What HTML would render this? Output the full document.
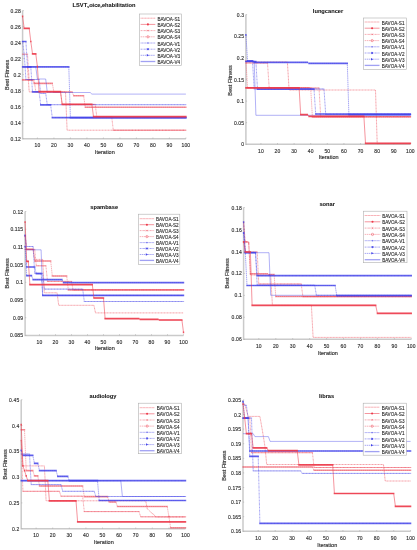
<!DOCTYPE html>
<html><head><meta charset="utf-8"><title>BAVOA convergence curves</title>
<style>
html,body{margin:0;padding:0;background:#fff;width:417px;height:550px;overflow:hidden}
svg{display:block;font-family:"Liberation Sans",sans-serif;filter:blur(0.4px)}
.tk{font-size:5.0px;letter-spacing:0.12px;fill:#2e2e2e;stroke:#333;stroke-width:0.14px}
.al{font-size:5.5px;fill:#2e2e2e;stroke:#333;stroke-width:0.16px}
.tt{font-size:5.7px;font-weight:bold;fill:#111;stroke:#111;stroke-width:0.05px}
.tt .sub{font-size:3.6px}
.lg{font-size:4.6px;fill:#262626;stroke:#262626;stroke-width:0.1px}
</style></head><body>
<svg width="417" height="550" viewBox="0 0 417 550">
<rect width="417" height="550" fill="#fff"/>
<g><path d="M22.6 10.6V138.7H185.9" fill="none" stroke="#cacaca" stroke-width="1.5"/><path d="M22.6 138.7h1.2" stroke="#a0a0a0" stroke-width="0.5"/><text x="20.8" y="140.8" class="tk" text-anchor="end">0.12</text><path d="M22.6 122.7h1.2" stroke="#a0a0a0" stroke-width="0.5"/><text x="20.8" y="124.7" class="tk" text-anchor="end">0.14</text><path d="M22.6 106.7h1.2" stroke="#a0a0a0" stroke-width="0.5"/><text x="20.8" y="108.7" class="tk" text-anchor="end">0.16</text><path d="M22.6 90.7h1.2" stroke="#a0a0a0" stroke-width="0.5"/><text x="20.8" y="92.7" class="tk" text-anchor="end">0.18</text><path d="M22.6 74.6h1.2" stroke="#a0a0a0" stroke-width="0.5"/><text x="20.8" y="76.7" class="tk" text-anchor="end">0.2</text><path d="M22.6 58.6h1.2" stroke="#a0a0a0" stroke-width="0.5"/><text x="20.8" y="60.7" class="tk" text-anchor="end">0.22</text><path d="M22.6 42.6h1.2" stroke="#a0a0a0" stroke-width="0.5"/><text x="20.8" y="44.7" class="tk" text-anchor="end">0.24</text><path d="M22.6 26.6h1.2" stroke="#a0a0a0" stroke-width="0.5"/><text x="20.8" y="28.7" class="tk" text-anchor="end">0.26</text><path d="M22.6 10.6h1.2" stroke="#a0a0a0" stroke-width="0.5"/><text x="20.8" y="12.6" class="tk" text-anchor="end">0.28</text><path d="M37.4 138.7v-1.2" stroke="#a0a0a0" stroke-width="0.5"/><text x="37.4" y="147.0" class="tk" text-anchor="middle">10</text><path d="M53.9 138.7v-1.2" stroke="#a0a0a0" stroke-width="0.5"/><text x="53.9" y="147.0" class="tk" text-anchor="middle">20</text><path d="M70.4 138.7v-1.2" stroke="#a0a0a0" stroke-width="0.5"/><text x="70.4" y="147.0" class="tk" text-anchor="middle">30</text><path d="M86.9 138.7v-1.2" stroke="#a0a0a0" stroke-width="0.5"/><text x="86.9" y="147.0" class="tk" text-anchor="middle">40</text><path d="M103.4 138.7v-1.2" stroke="#a0a0a0" stroke-width="0.5"/><text x="103.4" y="147.0" class="tk" text-anchor="middle">50</text><path d="M119.9 138.7v-1.2" stroke="#a0a0a0" stroke-width="0.5"/><text x="119.9" y="147.0" class="tk" text-anchor="middle">60</text><path d="M136.4 138.7v-1.2" stroke="#a0a0a0" stroke-width="0.5"/><text x="136.4" y="147.0" class="tk" text-anchor="middle">70</text><path d="M152.9 138.7v-1.2" stroke="#a0a0a0" stroke-width="0.5"/><text x="152.9" y="147.0" class="tk" text-anchor="middle">80</text><path d="M169.4 138.7v-1.2" stroke="#a0a0a0" stroke-width="0.5"/><text x="169.4" y="147.0" class="tk" text-anchor="middle">90</text><path d="M185.9 138.7v-1.2" stroke="#a0a0a0" stroke-width="0.5"/><text x="185.9" y="147.0" class="tk" text-anchor="middle">100</text><text x="104.8" y="153.6" class="al" text-anchor="middle">Iteration</text><text class="al" text-anchor="middle" transform="translate(8.8 74.8) rotate(-90)">Best Fitness</text><text x="104.0" y="6.8" class="tt" text-anchor="middle">LSVT<tspan class="sub" dy="1.4">v</tspan><tspan dy="-1.4">oice</tspan><tspan class="sub" dy="1.4">r</tspan><tspan dy="-1.4">ehabilitation</tspan></text><polyline points="22.6,66.9 27.5,66.9 29.2,91.9 65.5,91.9 67.1,130.2 185.9,130.2" fill="none" stroke="#ec3a4a" stroke-width="0.80" stroke-dasharray="1.1 0.4" stroke-opacity="0.60"/><polyline points="22.6,54.2 27.5,54.2 29.2,79.9 34.1,79.9 35.8,91.9 60.5,91.9 62.2,104.4 95.2,104.4 96.8,116.8 111.7,116.8 113.3,130.2 185.9,130.2" fill="none" stroke="#ec3a4a" stroke-width="0.60" stroke-dasharray="1.8 0.5 0.6 0.5" stroke-opacity="0.70"/><path d="M21.9 54.2H28.2M28.5 79.9H34.8M35.1 91.9H61.2M61.5 104.4H95.9M96.1 116.8H112.4M112.6 130.2H186.6" stroke="#ec3a4a" stroke-width="1.00" stroke-opacity="0.40" fill="none"/><polyline points="22.6,79.9 32.5,79.9 34.1,83.4 52.3,83.4 53.9,92.0 72.1,92.0 73.7,95.7 83.6,95.7 85.3,107.2 185.9,107.2" fill="none" stroke="#ec3a4a" stroke-width="0.55" stroke-dasharray="1.5 0.6" stroke-opacity="0.70"/><path d="M21.9 79.9H33.2M33.4 83.4H53.0M53.2 92.0H72.8M73.0 95.7H84.3M84.6 107.2H186.6" stroke="#ec3a4a" stroke-width="1.60" stroke-opacity="0.50" fill="none"/><polyline points="22.6,41.5 24.2,54.2 25.9,79.5 39.1,79.5 40.7,93.4 45.7,93.4 47.3,104.7 185.9,104.7" fill="none" stroke="#4444e8" stroke-width="0.80" stroke-dasharray="1.1 0.4" stroke-opacity="0.60"/><path d="M21.9 41.5H23.3M23.5 54.2H24.9M25.2 79.5H39.8M40.0 93.4H46.4M46.6 104.7H186.6" stroke="#4444e8" stroke-width="0.90" stroke-opacity="0.30" fill="none"/><polyline points="22.6,66.9 35.8,66.9 37.4,79.0 45.7,79.0 47.3,92.5 90.2,92.5 91.9,94.1 185.9,94.1" fill="none" stroke="#4444e8" stroke-width="0.75" stroke-opacity="0.55"/><polyline points="22.6,41.5 25.9,41.5 27.5,66.9 30.8,66.9 32.5,91.9 39.1,91.9 40.7,104.8 50.6,104.8 52.3,117.6 185.9,117.6" fill="none" stroke="#4444e8" stroke-width="0.55" stroke-dasharray="1.8 0.5 0.6 0.5" stroke-opacity="0.85"/><path d="M21.9 41.5H26.6M26.8 66.9H31.5M31.8 91.9H39.8M40.0 104.8H51.3M51.6 117.6H186.6" stroke="#4444e8" stroke-width="1.70" stroke-opacity="0.80" fill="none"/><polyline points="22.6,66.9 68.8,66.9 70.4,117.6 185.9,117.6" fill="none" stroke="#4444e8" stroke-width="0.55" stroke-dasharray="1.5 0.6" stroke-opacity="0.85"/><path d="M21.9 66.9H69.5M69.7 117.6H186.6" stroke="#4444e8" stroke-width="1.70" stroke-opacity="0.80" fill="none"/><polyline points="22.6,16.4 24.2,28.4 29.2,28.4 30.8,41.5 32.5,53.9 35.8,53.9 37.4,66.6 39.1,91.7 60.5,91.7 62.2,104.4 91.9,104.4 93.5,116.7 185.9,116.7" fill="none" stroke="#ec3a4a" stroke-width="0.60" stroke-opacity="0.90"/><path d="M21.9 16.4H23.3M23.5 28.4H29.9M30.1 41.5H31.5M31.8 53.9H36.5M36.7 66.6H38.1M38.4 91.7H61.2M61.5 104.4H92.6M92.8 116.7H186.6" stroke="#ec3a4a" stroke-width="1.70" stroke-opacity="0.85" fill="none"/><rect x="139.5" y="14.0" width="42.1" height="51.3" fill="#fff" stroke="#b0b0b0" stroke-width="0.6"/><path d="M140.6 18.2H155.3" stroke="#ec3a4a" stroke-width="0.80" stroke-dasharray="1.1 0.4" stroke-opacity="0.60"/><text x="157.4" y="20.8" class="lg">BAVOA-S1</text><path d="M140.6 24.4H155.3" stroke="#ec3a4a" stroke-width="0.60" stroke-opacity="0.90"/><circle cx="147.9" cy="24.4" r="1.05" fill="#ec3a4a"/><text x="157.4" y="27.0" class="lg">BAVOA-S2</text><path d="M140.6 30.6H155.3" stroke="#ec3a4a" stroke-width="0.60" stroke-dasharray="1.8 0.5 0.6 0.5" stroke-opacity="0.70"/><path d="M147.1 29.8l1.6 1.6m0 -1.6l-1.6 1.6" stroke="#ec3a4a" stroke-width="0.5" opacity="0.75" fill="none"/><text x="157.4" y="33.2" class="lg">BAVOA-S3</text><path d="M140.6 36.8H155.3" stroke="#ec3a4a" stroke-width="0.55" stroke-dasharray="1.5 0.6" stroke-opacity="0.70"/><circle cx="147.9" cy="36.8" r="1.15" fill="none" stroke="#ec3a4a" stroke-width="0.55" opacity="0.8"/><text x="157.4" y="39.4" class="lg">BAVOA-S4</text><path d="M140.6 43.0H155.3" stroke="#4444e8" stroke-width="0.80" stroke-dasharray="1.1 0.4" stroke-opacity="0.60"/><path d="M147.1 43.0h1.6m-0.8 -0.8v1.6" stroke="#4444e8" stroke-width="0.5" opacity="0.75" fill="none"/><text x="157.4" y="45.6" class="lg">BAVOA-V1</text><path d="M140.6 49.2H155.3" stroke="#4444e8" stroke-width="0.55" stroke-dasharray="1.8 0.5 0.6 0.5" stroke-opacity="0.85"/><path d="M147.0 48.3l1.8 1.8m0 -1.8l-1.8 1.8M146.8 49.2h2.2m-1.1 -1.1v2.2" stroke="#4444e8" stroke-width="0.6" fill="none"/><text x="157.4" y="51.8" class="lg">BAVOA-V2</text><path d="M140.6 55.3H155.3" stroke="#4444e8" stroke-width="0.55" stroke-dasharray="1.5 0.6" stroke-opacity="0.85"/><path d="M146.8 54.1l2.2 1.25l-2.2 1.25z" fill="#4444e8"/><text x="157.4" y="57.9" class="lg">BAVOA-V3</text><path d="M140.6 61.5H155.3" stroke="#4444e8" stroke-width="1.30" stroke-opacity="0.50"/><text x="157.4" y="64.1" class="lg">BAVOA-V4</text></g>
<g><path d="M245.9 14.6V144.3H410.4" fill="none" stroke="#cacaca" stroke-width="1.5"/><path d="M245.9 144.3h1.2" stroke="#a0a0a0" stroke-width="0.5"/><text x="244.1" y="146.4" class="tk" text-anchor="end">0</text><path d="M245.9 122.7h1.2" stroke="#a0a0a0" stroke-width="0.5"/><text x="244.1" y="124.7" class="tk" text-anchor="end">0.05</text><path d="M245.9 101.1h1.2" stroke="#a0a0a0" stroke-width="0.5"/><text x="244.1" y="103.1" class="tk" text-anchor="end">0.1</text><path d="M245.9 79.4h1.2" stroke="#a0a0a0" stroke-width="0.5"/><text x="244.1" y="81.5" class="tk" text-anchor="end">0.15</text><path d="M245.9 57.8h1.2" stroke="#a0a0a0" stroke-width="0.5"/><text x="244.1" y="59.9" class="tk" text-anchor="end">0.2</text><path d="M245.9 36.2h1.2" stroke="#a0a0a0" stroke-width="0.5"/><text x="244.1" y="38.3" class="tk" text-anchor="end">0.25</text><path d="M245.9 14.6h1.2" stroke="#a0a0a0" stroke-width="0.5"/><text x="244.1" y="16.6" class="tk" text-anchor="end">0.3</text><path d="M260.9 144.3v-1.2" stroke="#a0a0a0" stroke-width="0.5"/><text x="260.9" y="152.6" class="tk" text-anchor="middle">10</text><path d="M277.5 144.3v-1.2" stroke="#a0a0a0" stroke-width="0.5"/><text x="277.5" y="152.6" class="tk" text-anchor="middle">20</text><path d="M294.1 144.3v-1.2" stroke="#a0a0a0" stroke-width="0.5"/><text x="294.1" y="152.6" class="tk" text-anchor="middle">30</text><path d="M310.7 144.3v-1.2" stroke="#a0a0a0" stroke-width="0.5"/><text x="310.7" y="152.6" class="tk" text-anchor="middle">40</text><path d="M327.3 144.3v-1.2" stroke="#a0a0a0" stroke-width="0.5"/><text x="327.3" y="152.6" class="tk" text-anchor="middle">50</text><path d="M343.9 144.3v-1.2" stroke="#a0a0a0" stroke-width="0.5"/><text x="343.9" y="152.6" class="tk" text-anchor="middle">60</text><path d="M360.6 144.3v-1.2" stroke="#a0a0a0" stroke-width="0.5"/><text x="360.6" y="152.6" class="tk" text-anchor="middle">70</text><path d="M377.2 144.3v-1.2" stroke="#a0a0a0" stroke-width="0.5"/><text x="377.2" y="152.6" class="tk" text-anchor="middle">80</text><path d="M393.8 144.3v-1.2" stroke="#a0a0a0" stroke-width="0.5"/><text x="393.8" y="152.6" class="tk" text-anchor="middle">90</text><path d="M410.4 144.3v-1.2" stroke="#a0a0a0" stroke-width="0.5"/><text x="410.4" y="152.6" class="tk" text-anchor="middle">100</text><text x="328.6" y="158.6" class="al" text-anchor="middle">Iteration</text><text class="al" text-anchor="middle" transform="translate(231.8 80.5) rotate(-90)">Best Fitness</text><text x="328.0" y="12.9" class="tt" text-anchor="middle">lungcancer</text><polyline points="245.9,62.0 287.4,62.0 289.1,90.0 375.5,90.0 377.2,143.6 410.4,143.6" fill="none" stroke="#ec3a4a" stroke-width="0.80" stroke-dasharray="1.1 0.4" stroke-opacity="0.60"/><polyline points="245.9,63.0 267.5,63.0 269.2,88.0 319.0,88.0 320.7,116.5 410.4,116.5" fill="none" stroke="#ec3a4a" stroke-width="0.60" stroke-dasharray="1.8 0.5 0.6 0.5" stroke-opacity="0.70"/><path d="M245.2 63.0H268.2M268.5 88.0H319.7M320.0 116.5H411.1" stroke="#ec3a4a" stroke-width="1.00" stroke-opacity="0.40" fill="none"/><polyline points="245.9,61.0 247.6,87.8 309.0,87.8 310.7,88.3 312.4,117.0 410.4,117.0" fill="none" stroke="#ec3a4a" stroke-width="0.55" stroke-dasharray="1.5 0.6" stroke-opacity="0.70"/><path d="M245.2 61.0H246.6M246.9 87.8H309.7M310.0 88.3H311.4M311.7 117.0H411.1" stroke="#ec3a4a" stroke-width="1.60" stroke-opacity="0.50" fill="none"/><polyline points="245.9,61.5 252.5,61.5 254.2,89.0 324.0,89.0 325.7,114.5 410.4,114.5" fill="none" stroke="#4444e8" stroke-width="0.80" stroke-dasharray="1.1 0.4" stroke-opacity="0.60"/><path d="M245.2 61.5H253.2M253.5 89.0H324.7M325.0 114.5H411.1" stroke="#4444e8" stroke-width="0.90" stroke-opacity="0.30" fill="none"/><polyline points="245.9,60.9 254.2,60.9 255.9,115.3 410.4,115.3" fill="none" stroke="#4444e8" stroke-width="0.75" stroke-opacity="0.55"/><polyline points="245.9,61.5 255.9,61.5 257.5,89.2 314.0,89.2 315.7,114.0 410.4,114.0" fill="none" stroke="#4444e8" stroke-width="0.55" stroke-dasharray="1.8 0.5 0.6 0.5" stroke-opacity="0.85"/><path d="M245.2 61.5H256.6M256.8 89.2H314.7M315.0 114.0H411.1" stroke="#4444e8" stroke-width="1.70" stroke-opacity="0.80" fill="none"/><polyline points="245.9,34.8 247.6,60.9 252.5,60.9 254.2,62.4 307.4,62.4 309.0,63.4 347.3,63.4 348.9,114.6 410.4,114.6" fill="none" stroke="#4444e8" stroke-width="0.55" stroke-dasharray="1.5 0.6" stroke-opacity="0.85"/><path d="M245.2 34.8H246.6M246.9 60.9H253.2M253.5 62.4H308.1M308.3 63.4H348.0M348.2 114.6H411.1" stroke="#4444e8" stroke-width="1.70" stroke-opacity="0.80" fill="none"/><polyline points="245.9,87.8 299.1,87.8 300.7,114.7 307.4,114.7 309.0,116.3 363.9,116.3 365.5,143.3 410.4,143.3" fill="none" stroke="#ec3a4a" stroke-width="0.60" stroke-opacity="0.90"/><path d="M245.2 87.8H299.8M300.0 114.7H308.1M308.3 116.3H364.6M364.8 143.3H411.1" stroke="#ec3a4a" stroke-width="1.70" stroke-opacity="0.85" fill="none"/><rect x="363.5" y="18.0" width="42.8" height="51.3" fill="#fff" stroke="#b0b0b0" stroke-width="0.6"/><path d="M364.7 22.0H379.5" stroke="#ec3a4a" stroke-width="0.80" stroke-dasharray="1.1 0.4" stroke-opacity="0.60"/><text x="381.8" y="24.6" class="lg">BAVOA-S1</text><path d="M364.7 28.2H379.5" stroke="#ec3a4a" stroke-width="0.60" stroke-opacity="0.90"/><circle cx="372.1" cy="28.2" r="1.05" fill="#ec3a4a"/><text x="381.8" y="30.8" class="lg">BAVOA-S2</text><path d="M364.7 34.4H379.5" stroke="#ec3a4a" stroke-width="0.60" stroke-dasharray="1.8 0.5 0.6 0.5" stroke-opacity="0.70"/><path d="M371.3 33.6l1.6 1.6m0 -1.6l-1.6 1.6" stroke="#ec3a4a" stroke-width="0.5" opacity="0.75" fill="none"/><text x="381.8" y="37.0" class="lg">BAVOA-S3</text><path d="M364.7 40.6H379.5" stroke="#ec3a4a" stroke-width="0.55" stroke-dasharray="1.5 0.6" stroke-opacity="0.70"/><circle cx="372.1" cy="40.6" r="1.15" fill="none" stroke="#ec3a4a" stroke-width="0.55" opacity="0.8"/><text x="381.8" y="43.2" class="lg">BAVOA-S4</text><path d="M364.7 46.8H379.5" stroke="#4444e8" stroke-width="0.80" stroke-dasharray="1.1 0.4" stroke-opacity="0.60"/><path d="M371.3 46.8h1.6m-0.8 -0.8v1.6" stroke="#4444e8" stroke-width="0.5" opacity="0.75" fill="none"/><text x="381.8" y="49.4" class="lg">BAVOA-V1</text><path d="M364.7 53.0H379.5" stroke="#4444e8" stroke-width="0.55" stroke-dasharray="1.8 0.5 0.6 0.5" stroke-opacity="0.85"/><path d="M371.2 52.1l1.8 1.8m0 -1.8l-1.8 1.8M371.0 53.0h2.2m-1.1 -1.1v2.2" stroke="#4444e8" stroke-width="0.6" fill="none"/><text x="381.8" y="55.6" class="lg">BAVOA-V2</text><path d="M364.7 59.2H379.5" stroke="#4444e8" stroke-width="0.55" stroke-dasharray="1.5 0.6" stroke-opacity="0.85"/><path d="M371.0 58.0l2.2 1.25l-2.2 1.25z" fill="#4444e8"/><text x="381.8" y="61.8" class="lg">BAVOA-V3</text><path d="M364.7 65.4H379.5" stroke="#4444e8" stroke-width="1.30" stroke-opacity="0.50"/><text x="381.8" y="68.0" class="lg">BAVOA-V4</text></g>
<g><path d="M25.1 211.5V335.4H183.5" fill="none" stroke="#cacaca" stroke-width="1.5"/><path d="M25.1 335.4h1.2" stroke="#a0a0a0" stroke-width="0.5"/><text x="23.2" y="337.4" class="tk" text-anchor="end">0.085</text><path d="M25.1 317.7h1.2" stroke="#a0a0a0" stroke-width="0.5"/><text x="23.2" y="319.7" class="tk" text-anchor="end">0.09</text><path d="M25.1 300.0h1.2" stroke="#a0a0a0" stroke-width="0.5"/><text x="23.2" y="302.1" class="tk" text-anchor="end">0.095</text><path d="M25.1 282.3h1.2" stroke="#a0a0a0" stroke-width="0.5"/><text x="23.2" y="284.3" class="tk" text-anchor="end">0.1</text><path d="M25.1 264.6h1.2" stroke="#a0a0a0" stroke-width="0.5"/><text x="23.2" y="266.6" class="tk" text-anchor="end">0.105</text><path d="M25.1 246.9h1.2" stroke="#a0a0a0" stroke-width="0.5"/><text x="23.2" y="248.9" class="tk" text-anchor="end">0.11</text><path d="M25.1 229.2h1.2" stroke="#a0a0a0" stroke-width="0.5"/><text x="23.2" y="231.2" class="tk" text-anchor="end">0.115</text><path d="M25.1 211.5h1.2" stroke="#a0a0a0" stroke-width="0.5"/><text x="23.2" y="213.5" class="tk" text-anchor="end">0.12</text><path d="M39.5 335.4v-1.2" stroke="#a0a0a0" stroke-width="0.5"/><text x="39.5" y="343.7" class="tk" text-anchor="middle">10</text><path d="M55.5 335.4v-1.2" stroke="#a0a0a0" stroke-width="0.5"/><text x="55.5" y="343.7" class="tk" text-anchor="middle">20</text><path d="M71.5 335.4v-1.2" stroke="#a0a0a0" stroke-width="0.5"/><text x="71.5" y="343.7" class="tk" text-anchor="middle">30</text><path d="M87.5 335.4v-1.2" stroke="#a0a0a0" stroke-width="0.5"/><text x="87.5" y="343.7" class="tk" text-anchor="middle">40</text><path d="M103.5 335.4v-1.2" stroke="#a0a0a0" stroke-width="0.5"/><text x="103.5" y="343.7" class="tk" text-anchor="middle">50</text><path d="M119.5 335.4v-1.2" stroke="#a0a0a0" stroke-width="0.5"/><text x="119.5" y="343.7" class="tk" text-anchor="middle">60</text><path d="M135.5 335.4v-1.2" stroke="#a0a0a0" stroke-width="0.5"/><text x="135.5" y="343.7" class="tk" text-anchor="middle">70</text><path d="M151.5 335.4v-1.2" stroke="#a0a0a0" stroke-width="0.5"/><text x="151.5" y="343.7" class="tk" text-anchor="middle">80</text><path d="M167.5 335.4v-1.2" stroke="#a0a0a0" stroke-width="0.5"/><text x="167.5" y="343.7" class="tk" text-anchor="middle">90</text><path d="M183.5 335.4v-1.2" stroke="#a0a0a0" stroke-width="0.5"/><text x="183.5" y="343.7" class="tk" text-anchor="middle">100</text><text x="104.8" y="350.0" class="al" text-anchor="middle">Iteration</text><text class="al" text-anchor="middle" transform="translate(8.8 273.3) rotate(-90)">Best Fitness</text><text x="104.2" y="208.6" class="tt" text-anchor="middle">spambase</text><polyline points="25.1,249.3 33.1,249.3 34.7,259.4 42.7,259.4 44.3,292.8 57.1,292.8 58.7,305.3 93.9,305.3 95.5,312.9 183.5,312.9" fill="none" stroke="#ec3a4a" stroke-width="0.80" stroke-dasharray="1.1 0.4" stroke-opacity="0.60"/><polyline points="25.1,249.4 34.7,249.4 36.3,265.8 45.9,265.8 47.5,281.4 71.5,281.4 73.1,289.9 183.5,289.9" fill="none" stroke="#ec3a4a" stroke-width="0.60" stroke-dasharray="1.8 0.5 0.6 0.5" stroke-opacity="0.70"/><path d="M24.4 249.4H35.4M35.6 265.8H46.6M46.8 281.4H72.2M72.4 289.9H184.2" stroke="#ec3a4a" stroke-width="1.00" stroke-opacity="0.40" fill="none"/><polyline points="25.1,236.0 26.7,249.4 33.1,249.4 34.7,261.0 50.7,261.0 52.3,276.0 66.7,276.0 68.3,289.9 183.5,289.9" fill="none" stroke="#ec3a4a" stroke-width="0.55" stroke-dasharray="1.5 0.6" stroke-opacity="0.70"/><path d="M24.4 236.0H25.8M26.0 249.4H33.8M34.0 261.0H51.4M51.6 276.0H67.4M67.6 289.9H184.2" stroke="#ec3a4a" stroke-width="1.60" stroke-opacity="0.50" fill="none"/><polyline points="25.1,235.4 26.7,246.5 33.1,246.5 34.7,273.3 42.7,273.3 44.3,289.1 82.7,289.1 84.3,301.5 183.5,301.5" fill="none" stroke="#4444e8" stroke-width="0.80" stroke-dasharray="1.1 0.4" stroke-opacity="0.60"/><path d="M24.4 235.4H25.8M26.0 246.5H33.8M34.0 273.3H43.4M43.6 289.1H83.4M83.6 301.5H184.2" stroke="#4444e8" stroke-width="0.90" stroke-opacity="0.30" fill="none"/><polyline points="25.1,246.5 26.7,249.8 41.1,249.8 42.7,295.6 183.5,295.6" fill="none" stroke="#4444e8" stroke-width="0.75" stroke-opacity="0.55"/><polyline points="25.1,235.4 26.7,267.0 34.7,267.0 36.3,273.6 41.1,273.6 42.7,295.4 183.5,295.4" fill="none" stroke="#4444e8" stroke-width="0.55" stroke-dasharray="1.8 0.5 0.6 0.5" stroke-opacity="0.85"/><path d="M24.4 235.4H25.8M26.0 267.0H35.4M35.6 273.6H41.8M42.0 295.4H184.2" stroke="#4444e8" stroke-width="1.70" stroke-opacity="0.80" fill="none"/><polyline points="25.1,246.5 26.7,275.7 31.5,275.7 33.1,279.6 61.9,279.6 63.5,282.6 183.5,282.6" fill="none" stroke="#4444e8" stroke-width="0.55" stroke-dasharray="1.5 0.6" stroke-opacity="0.85"/><path d="M24.4 246.5H25.8M26.0 275.7H32.2M32.4 279.6H62.6M62.8 282.6H184.2" stroke="#4444e8" stroke-width="1.70" stroke-opacity="0.80" fill="none"/><polyline points="25.1,222.0 26.7,261.3 28.3,261.3 29.9,284.6 92.3,284.6 93.9,298.0 103.5,298.0 105.1,318.6 138.7,318.6 140.3,319.4 157.9,319.4 159.5,320.0 181.9,320.0 183.5,332.4" fill="none" stroke="#ec3a4a" stroke-width="0.60" stroke-opacity="0.90"/><path d="M24.4 222.0H25.8M26.0 261.3H29.0M29.2 284.6H93.0M93.2 298.0H104.2M104.4 318.6H139.4M139.6 319.4H158.6M158.8 320.0H182.6M182.8 332.4H184.2" stroke="#ec3a4a" stroke-width="1.70" stroke-opacity="0.85" fill="none"/><rect x="138.5" y="214.2" width="41.3" height="50.1" fill="#fff" stroke="#b0b0b0" stroke-width="0.6"/><path d="M139.7 218.7H154.1" stroke="#ec3a4a" stroke-width="0.80" stroke-dasharray="1.1 0.4" stroke-opacity="0.60"/><text x="156.0" y="221.3" class="lg">BAVOA-S1</text><path d="M139.7 224.7H154.1" stroke="#ec3a4a" stroke-width="0.60" stroke-opacity="0.90"/><circle cx="146.9" cy="224.7" r="1.05" fill="#ec3a4a"/><text x="156.0" y="227.3" class="lg">BAVOA-S2</text><path d="M139.7 230.6H154.1" stroke="#ec3a4a" stroke-width="0.60" stroke-dasharray="1.8 0.5 0.6 0.5" stroke-opacity="0.70"/><path d="M146.1 229.8l1.6 1.6m0 -1.6l-1.6 1.6" stroke="#ec3a4a" stroke-width="0.5" opacity="0.75" fill="none"/><text x="156.0" y="233.2" class="lg">BAVOA-S3</text><path d="M139.7 236.6H154.1" stroke="#ec3a4a" stroke-width="0.55" stroke-dasharray="1.5 0.6" stroke-opacity="0.70"/><circle cx="146.9" cy="236.6" r="1.15" fill="none" stroke="#ec3a4a" stroke-width="0.55" opacity="0.8"/><text x="156.0" y="239.2" class="lg">BAVOA-S4</text><path d="M139.7 242.6H154.1" stroke="#4444e8" stroke-width="0.80" stroke-dasharray="1.1 0.4" stroke-opacity="0.60"/><path d="M146.1 242.6h1.6m-0.8 -0.8v1.6" stroke="#4444e8" stroke-width="0.5" opacity="0.75" fill="none"/><text x="156.0" y="245.2" class="lg">BAVOA-V1</text><path d="M139.7 248.5H154.1" stroke="#4444e8" stroke-width="0.55" stroke-dasharray="1.8 0.5 0.6 0.5" stroke-opacity="0.85"/><path d="M146.0 247.6l1.8 1.8m0 -1.8l-1.8 1.8M145.8 248.5h2.2m-1.1 -1.1v2.2" stroke="#4444e8" stroke-width="0.6" fill="none"/><text x="156.0" y="251.1" class="lg">BAVOA-V2</text><path d="M139.7 254.5H154.1" stroke="#4444e8" stroke-width="0.55" stroke-dasharray="1.5 0.6" stroke-opacity="0.85"/><path d="M145.8 253.2l2.2 1.25l-2.2 1.25z" fill="#4444e8"/><text x="156.0" y="257.1" class="lg">BAVOA-V3</text><path d="M139.7 260.4H154.1" stroke="#4444e8" stroke-width="1.30" stroke-opacity="0.50"/><text x="156.0" y="263.0" class="lg">BAVOA-V4</text></g>
<g><path d="M243.6 207.5V339.3H411.3" fill="none" stroke="#cacaca" stroke-width="1.5"/><path d="M243.6 339.3h1.2" stroke="#a0a0a0" stroke-width="0.5"/><text x="241.8" y="341.4" class="tk" text-anchor="end">0.06</text><path d="M243.6 317.3h1.2" stroke="#a0a0a0" stroke-width="0.5"/><text x="241.8" y="319.4" class="tk" text-anchor="end">0.08</text><path d="M243.6 295.4h1.2" stroke="#a0a0a0" stroke-width="0.5"/><text x="241.8" y="297.4" class="tk" text-anchor="end">0.1</text><path d="M243.6 273.4h1.2" stroke="#a0a0a0" stroke-width="0.5"/><text x="241.8" y="275.4" class="tk" text-anchor="end">0.12</text><path d="M243.6 251.4h1.2" stroke="#a0a0a0" stroke-width="0.5"/><text x="241.8" y="253.5" class="tk" text-anchor="end">0.14</text><path d="M243.6 229.5h1.2" stroke="#a0a0a0" stroke-width="0.5"/><text x="241.8" y="231.5" class="tk" text-anchor="end">0.16</text><path d="M243.6 207.5h1.2" stroke="#a0a0a0" stroke-width="0.5"/><text x="241.8" y="209.6" class="tk" text-anchor="end">0.18</text><path d="M258.8 339.3v-1.2" stroke="#a0a0a0" stroke-width="0.5"/><text x="258.8" y="347.6" class="tk" text-anchor="middle">10</text><path d="M275.8 339.3v-1.2" stroke="#a0a0a0" stroke-width="0.5"/><text x="275.8" y="347.6" class="tk" text-anchor="middle">20</text><path d="M292.7 339.3v-1.2" stroke="#a0a0a0" stroke-width="0.5"/><text x="292.7" y="347.6" class="tk" text-anchor="middle">30</text><path d="M309.7 339.3v-1.2" stroke="#a0a0a0" stroke-width="0.5"/><text x="309.7" y="347.6" class="tk" text-anchor="middle">40</text><path d="M326.6 339.3v-1.2" stroke="#a0a0a0" stroke-width="0.5"/><text x="326.6" y="347.6" class="tk" text-anchor="middle">50</text><path d="M343.5 339.3v-1.2" stroke="#a0a0a0" stroke-width="0.5"/><text x="343.5" y="347.6" class="tk" text-anchor="middle">60</text><path d="M360.5 339.3v-1.2" stroke="#a0a0a0" stroke-width="0.5"/><text x="360.5" y="347.6" class="tk" text-anchor="middle">70</text><path d="M377.4 339.3v-1.2" stroke="#a0a0a0" stroke-width="0.5"/><text x="377.4" y="347.6" class="tk" text-anchor="middle">80</text><path d="M394.4 339.3v-1.2" stroke="#a0a0a0" stroke-width="0.5"/><text x="394.4" y="347.6" class="tk" text-anchor="middle">90</text><path d="M411.3 339.3v-1.2" stroke="#a0a0a0" stroke-width="0.5"/><text x="411.3" y="347.6" class="tk" text-anchor="middle">100</text><text x="327.9" y="354.5" class="al" text-anchor="middle">Iteration</text><text class="al" text-anchor="middle" transform="translate(229.2 273.3) rotate(-90)">Best Fitness</text><text x="327.2" y="206.2" class="tt" text-anchor="middle">sonar</text><polyline points="243.6,222.0 245.3,241.9 248.7,241.9 250.4,275.0 270.7,275.0 272.4,305.3 311.4,305.3 313.1,337.4 411.3,337.4" fill="none" stroke="#ec3a4a" stroke-width="0.80" stroke-dasharray="1.1 0.4" stroke-opacity="0.60"/><polyline points="243.6,222.0 245.3,252.0 257.2,252.0 258.8,284.0 301.2,284.0 302.9,296.7 411.3,296.7" fill="none" stroke="#ec3a4a" stroke-width="0.60" stroke-dasharray="1.8 0.5 0.6 0.5" stroke-opacity="0.70"/><path d="M242.9 222.0H244.3M244.6 252.0H257.9M258.1 284.0H301.9M302.2 296.7H412.0" stroke="#ec3a4a" stroke-width="1.00" stroke-opacity="0.40" fill="none"/><polyline points="243.6,241.9 247.0,241.9 248.7,243.0 250.4,273.8 267.3,273.8 269.0,274.6 274.1,274.6 275.8,296.5 411.3,296.5" fill="none" stroke="#ec3a4a" stroke-width="0.55" stroke-dasharray="1.5 0.6" stroke-opacity="0.70"/><path d="M242.9 241.9H247.7M248.0 243.0H249.4M249.7 273.8H268.0M268.3 274.6H274.8M275.1 296.5H412.0" stroke="#ec3a4a" stroke-width="1.60" stroke-opacity="0.50" fill="none"/><polyline points="243.6,232.8 245.3,252.7 255.5,252.7 257.2,285.2 314.7,285.2 316.4,295.3 411.3,295.3" fill="none" stroke="#4444e8" stroke-width="0.80" stroke-dasharray="1.1 0.4" stroke-opacity="0.60"/><path d="M242.9 232.8H244.3M244.6 252.7H256.2M256.5 285.2H315.4M315.7 295.3H412.0" stroke="#4444e8" stroke-width="0.90" stroke-opacity="0.30" fill="none"/><polyline points="243.6,252.7 269.0,252.7 270.7,295.3 411.3,295.3" fill="none" stroke="#4444e8" stroke-width="0.75" stroke-opacity="0.55"/><polyline points="243.6,222.0 245.3,252.7 255.5,252.7 257.2,275.7 411.3,275.7" fill="none" stroke="#4444e8" stroke-width="0.55" stroke-dasharray="1.8 0.5 0.6 0.5" stroke-opacity="0.85"/><path d="M242.9 222.0H244.3M244.6 252.7H256.2M256.5 275.7H412.0" stroke="#4444e8" stroke-width="1.70" stroke-opacity="0.80" fill="none"/><polyline points="243.6,232.8 245.3,252.7 247.0,285.5 335.1,285.5 336.8,295.7 411.3,295.7" fill="none" stroke="#4444e8" stroke-width="0.55" stroke-dasharray="1.5 0.6" stroke-opacity="0.85"/><path d="M242.9 232.8H244.3M244.6 252.7H246.0M246.3 285.5H335.8M336.1 295.7H412.0" stroke="#4444e8" stroke-width="1.70" stroke-opacity="0.80" fill="none"/><polyline points="243.6,241.9 245.3,252.0 250.4,252.0 252.1,305.3 375.7,305.3 377.4,313.3 411.3,313.3" fill="none" stroke="#ec3a4a" stroke-width="0.60" stroke-opacity="0.90"/><path d="M242.9 241.9H244.3M244.6 252.0H251.1M251.4 305.3H376.4M376.7 313.3H412.0" stroke="#ec3a4a" stroke-width="1.70" stroke-opacity="0.85" fill="none"/><rect x="363.5" y="211.2" width="43.5" height="51.5" fill="#fff" stroke="#b0b0b0" stroke-width="0.6"/><path d="M364.7 215.5H380.3" stroke="#ec3a4a" stroke-width="0.80" stroke-dasharray="1.1 0.4" stroke-opacity="0.60"/><text x="382.2" y="218.1" class="lg">BAVOA-S1</text><path d="M364.7 221.8H380.3" stroke="#ec3a4a" stroke-width="0.60" stroke-opacity="0.90"/><circle cx="372.5" cy="221.8" r="1.05" fill="#ec3a4a"/><text x="382.2" y="224.4" class="lg">BAVOA-S2</text><path d="M364.7 228.1H380.3" stroke="#ec3a4a" stroke-width="0.60" stroke-dasharray="1.8 0.5 0.6 0.5" stroke-opacity="0.70"/><path d="M371.7 227.3l1.6 1.6m0 -1.6l-1.6 1.6" stroke="#ec3a4a" stroke-width="0.5" opacity="0.75" fill="none"/><text x="382.2" y="230.7" class="lg">BAVOA-S3</text><path d="M364.7 234.4H380.3" stroke="#ec3a4a" stroke-width="0.55" stroke-dasharray="1.5 0.6" stroke-opacity="0.70"/><circle cx="372.5" cy="234.4" r="1.15" fill="none" stroke="#ec3a4a" stroke-width="0.55" opacity="0.8"/><text x="382.2" y="237.0" class="lg">BAVOA-S4</text><path d="M364.7 240.7H380.3" stroke="#4444e8" stroke-width="0.80" stroke-dasharray="1.1 0.4" stroke-opacity="0.60"/><path d="M371.7 240.7h1.6m-0.8 -0.8v1.6" stroke="#4444e8" stroke-width="0.5" opacity="0.75" fill="none"/><text x="382.2" y="243.3" class="lg">BAVOA-V1</text><path d="M364.7 247.1H380.3" stroke="#4444e8" stroke-width="0.55" stroke-dasharray="1.8 0.5 0.6 0.5" stroke-opacity="0.85"/><path d="M371.6 246.2l1.8 1.8m0 -1.8l-1.8 1.8M371.4 247.1h2.2m-1.1 -1.1v2.2" stroke="#4444e8" stroke-width="0.6" fill="none"/><text x="382.2" y="249.7" class="lg">BAVOA-V2</text><path d="M364.7 253.4H380.3" stroke="#4444e8" stroke-width="0.55" stroke-dasharray="1.5 0.6" stroke-opacity="0.85"/><path d="M371.4 252.1l2.2 1.25l-2.2 1.25z" fill="#4444e8"/><text x="382.2" y="256.0" class="lg">BAVOA-V3</text><path d="M364.7 259.7H380.3" stroke="#4444e8" stroke-width="1.30" stroke-opacity="0.50"/><text x="382.2" y="262.3" class="lg">BAVOA-V4</text></g>
<g><path d="M21.2 399.7V528.7H185.5" fill="none" stroke="#cacaca" stroke-width="1.5"/><path d="M21.2 528.7h1.2" stroke="#a0a0a0" stroke-width="0.5"/><text x="19.3" y="530.8" class="tk" text-anchor="end">0.2</text><path d="M21.2 502.9h1.2" stroke="#a0a0a0" stroke-width="0.5"/><text x="19.3" y="505.0" class="tk" text-anchor="end">0.25</text><path d="M21.2 477.1h1.2" stroke="#a0a0a0" stroke-width="0.5"/><text x="19.3" y="479.2" class="tk" text-anchor="end">0.3</text><path d="M21.2 451.3h1.2" stroke="#a0a0a0" stroke-width="0.5"/><text x="19.3" y="453.4" class="tk" text-anchor="end">0.35</text><path d="M21.2 425.5h1.2" stroke="#a0a0a0" stroke-width="0.5"/><text x="19.3" y="427.6" class="tk" text-anchor="end">0.4</text><path d="M21.2 399.7h1.2" stroke="#a0a0a0" stroke-width="0.5"/><text x="19.3" y="401.8" class="tk" text-anchor="end">0.45</text><path d="M36.1 528.7v-1.2" stroke="#a0a0a0" stroke-width="0.5"/><text x="36.1" y="537.0" class="tk" text-anchor="middle">10</text><path d="M52.7 528.7v-1.2" stroke="#a0a0a0" stroke-width="0.5"/><text x="52.7" y="537.0" class="tk" text-anchor="middle">20</text><path d="M69.3 528.7v-1.2" stroke="#a0a0a0" stroke-width="0.5"/><text x="69.3" y="537.0" class="tk" text-anchor="middle">30</text><path d="M85.9 528.7v-1.2" stroke="#a0a0a0" stroke-width="0.5"/><text x="85.9" y="537.0" class="tk" text-anchor="middle">40</text><path d="M102.5 528.7v-1.2" stroke="#a0a0a0" stroke-width="0.5"/><text x="102.5" y="537.0" class="tk" text-anchor="middle">50</text><path d="M119.1 528.7v-1.2" stroke="#a0a0a0" stroke-width="0.5"/><text x="119.1" y="537.0" class="tk" text-anchor="middle">60</text><path d="M135.7 528.7v-1.2" stroke="#a0a0a0" stroke-width="0.5"/><text x="135.7" y="537.0" class="tk" text-anchor="middle">70</text><path d="M152.3 528.7v-1.2" stroke="#a0a0a0" stroke-width="0.5"/><text x="152.3" y="537.0" class="tk" text-anchor="middle">80</text><path d="M168.9 528.7v-1.2" stroke="#a0a0a0" stroke-width="0.5"/><text x="168.9" y="537.0" class="tk" text-anchor="middle">90</text><path d="M185.5 528.7v-1.2" stroke="#a0a0a0" stroke-width="0.5"/><text x="185.5" y="537.0" class="tk" text-anchor="middle">100</text><text x="103.8" y="543.6" class="al" text-anchor="middle">Iteration</text><text class="al" text-anchor="middle" transform="translate(6.8 464.4) rotate(-90)">Best Fitness</text><text x="103.0" y="397.6" class="tt" text-anchor="middle">audiology</text><polyline points="21.2,440.3 22.9,465.9 44.4,465.9 46.1,500.8 145.7,500.8 147.3,508.8 149.0,510.5 150.6,512.0 152.3,513.5 154.0,514.6 155.6,517.0 185.5,517.0" fill="none" stroke="#ec3a4a" stroke-width="0.80" stroke-dasharray="1.1 0.4" stroke-opacity="0.60"/><polyline points="21.2,440.3 22.9,491.3 59.4,491.3 61.0,496.2 82.6,496.2 84.3,511.6 139.0,511.6 140.7,516.8 185.5,516.8" fill="none" stroke="#ec3a4a" stroke-width="0.60" stroke-dasharray="1.8 0.5 0.6 0.5" stroke-opacity="0.70"/><path d="M20.5 440.3H21.9M22.2 491.3H60.1M60.3 496.2H83.3M83.6 511.6H139.7M140.0 516.8H186.2" stroke="#ec3a4a" stroke-width="1.00" stroke-opacity="0.40" fill="none"/><polyline points="21.2,429.8 24.5,429.8 26.2,470.6 32.8,470.6 34.5,475.9 37.8,475.9 39.5,486.0 82.6,486.0 84.3,496.6 107.5,496.6 109.2,502.0 115.8,502.0 117.5,506.5 167.2,506.5 168.9,516.5 170.6,527.8 185.5,527.8" fill="none" stroke="#ec3a4a" stroke-width="0.55" stroke-dasharray="1.5 0.6" stroke-opacity="0.70"/><path d="M20.5 429.8H25.2M25.5 470.6H33.5M33.8 475.9H38.5M38.8 486.0H83.3M83.6 496.6H108.2M108.5 502.0H116.5M116.8 506.5H167.9M168.2 516.5H169.6M169.9 527.8H186.2" stroke="#ec3a4a" stroke-width="1.60" stroke-opacity="0.50" fill="none"/><polyline points="21.2,454.0 29.5,454.0 31.2,484.6 61.0,484.6 62.7,491.3 94.2,491.3 95.9,496.5 185.5,496.5" fill="none" stroke="#4444e8" stroke-width="0.80" stroke-dasharray="1.1 0.4" stroke-opacity="0.60"/><path d="M20.5 454.0H30.2M30.5 484.6H61.7M62.0 491.3H94.9M95.2 496.5H186.2" stroke="#4444e8" stroke-width="0.90" stroke-opacity="0.30" fill="none"/><polyline points="21.2,480.7 120.8,480.7 122.4,496.5 185.5,496.5" fill="none" stroke="#4444e8" stroke-width="0.75" stroke-opacity="0.55"/><polyline points="21.2,480.7 185.5,480.7" fill="none" stroke="#4444e8" stroke-width="0.55" stroke-dasharray="1.8 0.5 0.6 0.5" stroke-opacity="0.85"/><path d="M20.5 480.7H186.2" stroke="#4444e8" stroke-width="1.70" stroke-opacity="0.80" fill="none"/><polyline points="21.2,450.4 22.9,455.4 32.8,455.4 34.5,463.4 37.8,463.4 39.5,470.6 56.1,470.6 57.7,476.4 67.7,476.4 69.3,480.7 97.5,480.7 99.2,500.5 185.5,500.5" fill="none" stroke="#4444e8" stroke-width="0.55" stroke-dasharray="1.5 0.6" stroke-opacity="0.85"/><path d="M20.5 450.4H21.9M22.2 455.4H33.5M33.8 463.4H38.5M38.8 470.6H56.8M57.0 476.4H68.4M68.6 480.7H98.2M98.5 500.5H186.2" stroke="#4444e8" stroke-width="1.70" stroke-opacity="0.80" fill="none"/><polyline points="21.2,424.7 22.9,465.9 24.5,470.6 26.2,475.9 27.8,480.7 47.8,480.7 49.4,500.8 76.0,500.8 77.6,521.8 185.5,521.8" fill="none" stroke="#ec3a4a" stroke-width="0.60" stroke-opacity="0.90"/><path d="M20.5 424.7H21.9M22.2 465.9H23.6M23.8 470.6H25.2M25.5 475.9H26.9M27.1 480.7H48.5M48.7 500.8H76.7M76.9 521.8H186.2" stroke="#ec3a4a" stroke-width="1.70" stroke-opacity="0.85" fill="none"/><rect x="138.5" y="403.2" width="42.8" height="50.5" fill="#fff" stroke="#b0b0b0" stroke-width="0.6"/><path d="M139.7 407.7H154.5" stroke="#ec3a4a" stroke-width="0.80" stroke-dasharray="1.1 0.4" stroke-opacity="0.60"/><text x="156.8" y="410.3" class="lg">BAVOA-S1</text><path d="M139.7 413.8H154.5" stroke="#ec3a4a" stroke-width="0.60" stroke-opacity="0.90"/><circle cx="147.1" cy="413.8" r="1.05" fill="#ec3a4a"/><text x="156.8" y="416.4" class="lg">BAVOA-S2</text><path d="M139.7 420.0H154.5" stroke="#ec3a4a" stroke-width="0.60" stroke-dasharray="1.8 0.5 0.6 0.5" stroke-opacity="0.70"/><path d="M146.3 419.2l1.6 1.6m0 -1.6l-1.6 1.6" stroke="#ec3a4a" stroke-width="0.5" opacity="0.75" fill="none"/><text x="156.8" y="422.6" class="lg">BAVOA-S3</text><path d="M139.7 426.1H154.5" stroke="#ec3a4a" stroke-width="0.55" stroke-dasharray="1.5 0.6" stroke-opacity="0.70"/><circle cx="147.1" cy="426.1" r="1.15" fill="none" stroke="#ec3a4a" stroke-width="0.55" opacity="0.8"/><text x="156.8" y="428.7" class="lg">BAVOA-S4</text><path d="M139.7 432.3H154.5" stroke="#4444e8" stroke-width="0.80" stroke-dasharray="1.1 0.4" stroke-opacity="0.60"/><path d="M146.3 432.3h1.6m-0.8 -0.8v1.6" stroke="#4444e8" stroke-width="0.5" opacity="0.75" fill="none"/><text x="156.8" y="434.9" class="lg">BAVOA-V1</text><path d="M139.7 438.4H154.5" stroke="#4444e8" stroke-width="0.55" stroke-dasharray="1.8 0.5 0.6 0.5" stroke-opacity="0.85"/><path d="M146.2 437.5l1.8 1.8m0 -1.8l-1.8 1.8M146.0 438.4h2.2m-1.1 -1.1v2.2" stroke="#4444e8" stroke-width="0.6" fill="none"/><text x="156.8" y="441.0" class="lg">BAVOA-V2</text><path d="M139.7 444.6H154.5" stroke="#4444e8" stroke-width="0.55" stroke-dasharray="1.5 0.6" stroke-opacity="0.85"/><path d="M146.0 443.3l2.2 1.25l-2.2 1.25z" fill="#4444e8"/><text x="156.8" y="447.2" class="lg">BAVOA-V3</text><path d="M139.7 450.7H154.5" stroke="#4444e8" stroke-width="1.30" stroke-opacity="0.50"/><text x="156.8" y="453.3" class="lg">BAVOA-V4</text></g>
<g><path d="M243.0 399.9V531.3H410.6" fill="none" stroke="#cacaca" stroke-width="1.5"/><path d="M243.0 531.3h1.2" stroke="#a0a0a0" stroke-width="0.5"/><text x="241.2" y="533.3" class="tk" text-anchor="end">0.16</text><path d="M243.0 516.7h1.2" stroke="#a0a0a0" stroke-width="0.5"/><text x="241.2" y="518.7" class="tk" text-anchor="end">0.165</text><path d="M243.0 502.1h1.2" stroke="#a0a0a0" stroke-width="0.5"/><text x="241.2" y="504.1" class="tk" text-anchor="end">0.17</text><path d="M243.0 487.5h1.2" stroke="#a0a0a0" stroke-width="0.5"/><text x="241.2" y="489.6" class="tk" text-anchor="end">0.175</text><path d="M243.0 472.9h1.2" stroke="#a0a0a0" stroke-width="0.5"/><text x="241.2" y="474.9" class="tk" text-anchor="end">0.18</text><path d="M243.0 458.3h1.2" stroke="#a0a0a0" stroke-width="0.5"/><text x="241.2" y="460.3" class="tk" text-anchor="end">0.185</text><path d="M243.0 443.7h1.2" stroke="#a0a0a0" stroke-width="0.5"/><text x="241.2" y="445.7" class="tk" text-anchor="end">0.19</text><path d="M243.0 429.1h1.2" stroke="#a0a0a0" stroke-width="0.5"/><text x="241.2" y="431.1" class="tk" text-anchor="end">0.195</text><path d="M243.0 414.5h1.2" stroke="#a0a0a0" stroke-width="0.5"/><text x="241.2" y="416.5" class="tk" text-anchor="end">0.2</text><path d="M243.0 399.9h1.2" stroke="#a0a0a0" stroke-width="0.5"/><text x="241.2" y="401.9" class="tk" text-anchor="end">0.205</text><path d="M258.2 531.3v-1.2" stroke="#a0a0a0" stroke-width="0.5"/><text x="258.2" y="539.6" class="tk" text-anchor="middle">10</text><path d="M275.2 531.3v-1.2" stroke="#a0a0a0" stroke-width="0.5"/><text x="275.2" y="539.6" class="tk" text-anchor="middle">20</text><path d="M292.1 531.3v-1.2" stroke="#a0a0a0" stroke-width="0.5"/><text x="292.1" y="539.6" class="tk" text-anchor="middle">30</text><path d="M309.0 531.3v-1.2" stroke="#a0a0a0" stroke-width="0.5"/><text x="309.0" y="539.6" class="tk" text-anchor="middle">40</text><path d="M326.0 531.3v-1.2" stroke="#a0a0a0" stroke-width="0.5"/><text x="326.0" y="539.6" class="tk" text-anchor="middle">50</text><path d="M342.9 531.3v-1.2" stroke="#a0a0a0" stroke-width="0.5"/><text x="342.9" y="539.6" class="tk" text-anchor="middle">60</text><path d="M359.8 531.3v-1.2" stroke="#a0a0a0" stroke-width="0.5"/><text x="359.8" y="539.6" class="tk" text-anchor="middle">70</text><path d="M376.7 531.3v-1.2" stroke="#a0a0a0" stroke-width="0.5"/><text x="376.7" y="539.6" class="tk" text-anchor="middle">80</text><path d="M393.7 531.3v-1.2" stroke="#a0a0a0" stroke-width="0.5"/><text x="393.7" y="539.6" class="tk" text-anchor="middle">90</text><path d="M410.6 531.3v-1.2" stroke="#a0a0a0" stroke-width="0.5"/><text x="410.6" y="539.6" class="tk" text-anchor="middle">100</text><text x="327.3" y="546.6" class="al" text-anchor="middle">Iteration</text><text class="al" text-anchor="middle" transform="translate(225.6 465.7) rotate(-90)">Best Fitness</text><text x="326.6" y="397.6" class="tt" text-anchor="middle">libras</text><polyline points="243.0,404.2 244.7,404.2 246.4,410.0 248.1,416.4 259.9,416.4 261.6,426.0 263.3,436.0 265.0,447.0 266.7,464.5 383.5,464.5 385.2,481.0 410.6,481.0" fill="none" stroke="#ec3a4a" stroke-width="0.80" stroke-dasharray="1.1 0.4" stroke-opacity="0.60"/><polyline points="243.0,418.0 249.8,418.0 251.5,452.7 312.4,452.7 314.1,467.5 410.6,467.5" fill="none" stroke="#ec3a4a" stroke-width="0.60" stroke-dasharray="1.8 0.5 0.6 0.5" stroke-opacity="0.70"/><path d="M242.3 418.0H250.5M250.8 452.7H313.1M313.4 467.5H411.3" stroke="#ec3a4a" stroke-width="1.00" stroke-opacity="0.40" fill="none"/><polyline points="243.0,467.0 312.4,467.0 314.1,470.3 410.6,470.3" fill="none" stroke="#ec3a4a" stroke-width="0.55" stroke-dasharray="1.5 0.6" stroke-opacity="0.70"/><path d="M242.3 467.0H313.1M313.4 470.3H411.3" stroke="#ec3a4a" stroke-width="1.60" stroke-opacity="0.50" fill="none"/><polyline points="243.0,401.6 244.7,405.3 246.4,405.3 248.1,418.0 251.5,418.0 253.2,470.9 300.6,470.9 302.3,473.4 410.6,473.4" fill="none" stroke="#4444e8" stroke-width="0.80" stroke-dasharray="1.1 0.4" stroke-opacity="0.60"/><path d="M242.3 401.6H243.7M244.0 405.3H247.1M247.4 418.0H252.2M252.5 470.9H301.3M301.6 473.4H411.3" stroke="#4444e8" stroke-width="0.90" stroke-opacity="0.30" fill="none"/><polyline points="243.0,433.7 253.2,433.7 254.9,436.6 268.4,436.6 270.1,441.4 410.6,441.4" fill="none" stroke="#4444e8" stroke-width="0.75" stroke-opacity="0.55"/><polyline points="243.0,418.1 248.1,418.1 249.8,456.3 258.2,456.3 259.9,523.4 410.6,523.4" fill="none" stroke="#4444e8" stroke-width="0.55" stroke-dasharray="1.8 0.5 0.6 0.5" stroke-opacity="0.85"/><path d="M242.3 418.1H248.8M249.1 456.3H258.9M259.2 523.4H411.3" stroke="#4444e8" stroke-width="1.70" stroke-opacity="0.80" fill="none"/><polyline points="243.0,401.6 244.7,418.1 248.1,418.1 249.8,451.0 410.6,451.0" fill="none" stroke="#4444e8" stroke-width="0.55" stroke-dasharray="1.5 0.6" stroke-opacity="0.85"/><path d="M242.3 401.6H243.7M244.0 418.1H248.8M249.1 451.0H411.3" stroke="#4444e8" stroke-width="1.70" stroke-opacity="0.80" fill="none"/><polyline points="243.0,404.0 244.7,418.0 246.4,433.7 251.5,433.7 253.2,447.9 266.7,447.9 268.4,450.7 297.2,450.7 298.9,464.8 332.7,464.8 334.4,493.5 393.7,493.5 395.4,506.4 410.6,506.4" fill="none" stroke="#ec3a4a" stroke-width="0.60" stroke-opacity="0.90"/><path d="M242.3 404.0H243.7M244.0 418.0H245.4M245.7 433.7H252.2M252.5 447.9H267.4M267.7 450.7H297.9M298.2 464.8H333.4M333.7 493.5H394.4M394.7 506.4H411.3" stroke="#ec3a4a" stroke-width="1.70" stroke-opacity="0.85" fill="none"/><rect x="363.2" y="403.2" width="43.1" height="52.0" fill="#fff" stroke="#b0b0b0" stroke-width="0.6"/><path d="M364.7 407.2H379.5" stroke="#ec3a4a" stroke-width="0.80" stroke-dasharray="1.1 0.4" stroke-opacity="0.60"/><text x="381.8" y="409.8" class="lg">BAVOA-S1</text><path d="M364.7 413.5H379.5" stroke="#ec3a4a" stroke-width="0.60" stroke-opacity="0.90"/><circle cx="372.1" cy="413.5" r="1.05" fill="#ec3a4a"/><text x="381.8" y="416.1" class="lg">BAVOA-S2</text><path d="M364.7 419.9H379.5" stroke="#ec3a4a" stroke-width="0.60" stroke-dasharray="1.8 0.5 0.6 0.5" stroke-opacity="0.70"/><path d="M371.3 419.1l1.6 1.6m0 -1.6l-1.6 1.6" stroke="#ec3a4a" stroke-width="0.5" opacity="0.75" fill="none"/><text x="381.8" y="422.5" class="lg">BAVOA-S3</text><path d="M364.7 426.2H379.5" stroke="#ec3a4a" stroke-width="0.55" stroke-dasharray="1.5 0.6" stroke-opacity="0.70"/><circle cx="372.1" cy="426.2" r="1.15" fill="none" stroke="#ec3a4a" stroke-width="0.55" opacity="0.8"/><text x="381.8" y="428.8" class="lg">BAVOA-S4</text><path d="M364.7 432.6H379.5" stroke="#4444e8" stroke-width="0.80" stroke-dasharray="1.1 0.4" stroke-opacity="0.60"/><path d="M371.3 432.6h1.6m-0.8 -0.8v1.6" stroke="#4444e8" stroke-width="0.5" opacity="0.75" fill="none"/><text x="381.8" y="435.2" class="lg">BAVOA-V1</text><path d="M364.7 438.9H379.5" stroke="#4444e8" stroke-width="0.55" stroke-dasharray="1.8 0.5 0.6 0.5" stroke-opacity="0.85"/><path d="M371.2 438.0l1.8 1.8m0 -1.8l-1.8 1.8M371.0 438.9h2.2m-1.1 -1.1v2.2" stroke="#4444e8" stroke-width="0.6" fill="none"/><text x="381.8" y="441.5" class="lg">BAVOA-V2</text><path d="M364.7 445.3H379.5" stroke="#4444e8" stroke-width="0.55" stroke-dasharray="1.5 0.6" stroke-opacity="0.85"/><path d="M371.0 444.0l2.2 1.25l-2.2 1.25z" fill="#4444e8"/><text x="381.8" y="447.9" class="lg">BAVOA-V3</text><path d="M364.7 451.6H379.5" stroke="#4444e8" stroke-width="1.30" stroke-opacity="0.50"/><text x="381.8" y="454.2" class="lg">BAVOA-V4</text></g>
</svg>
</body></html>
